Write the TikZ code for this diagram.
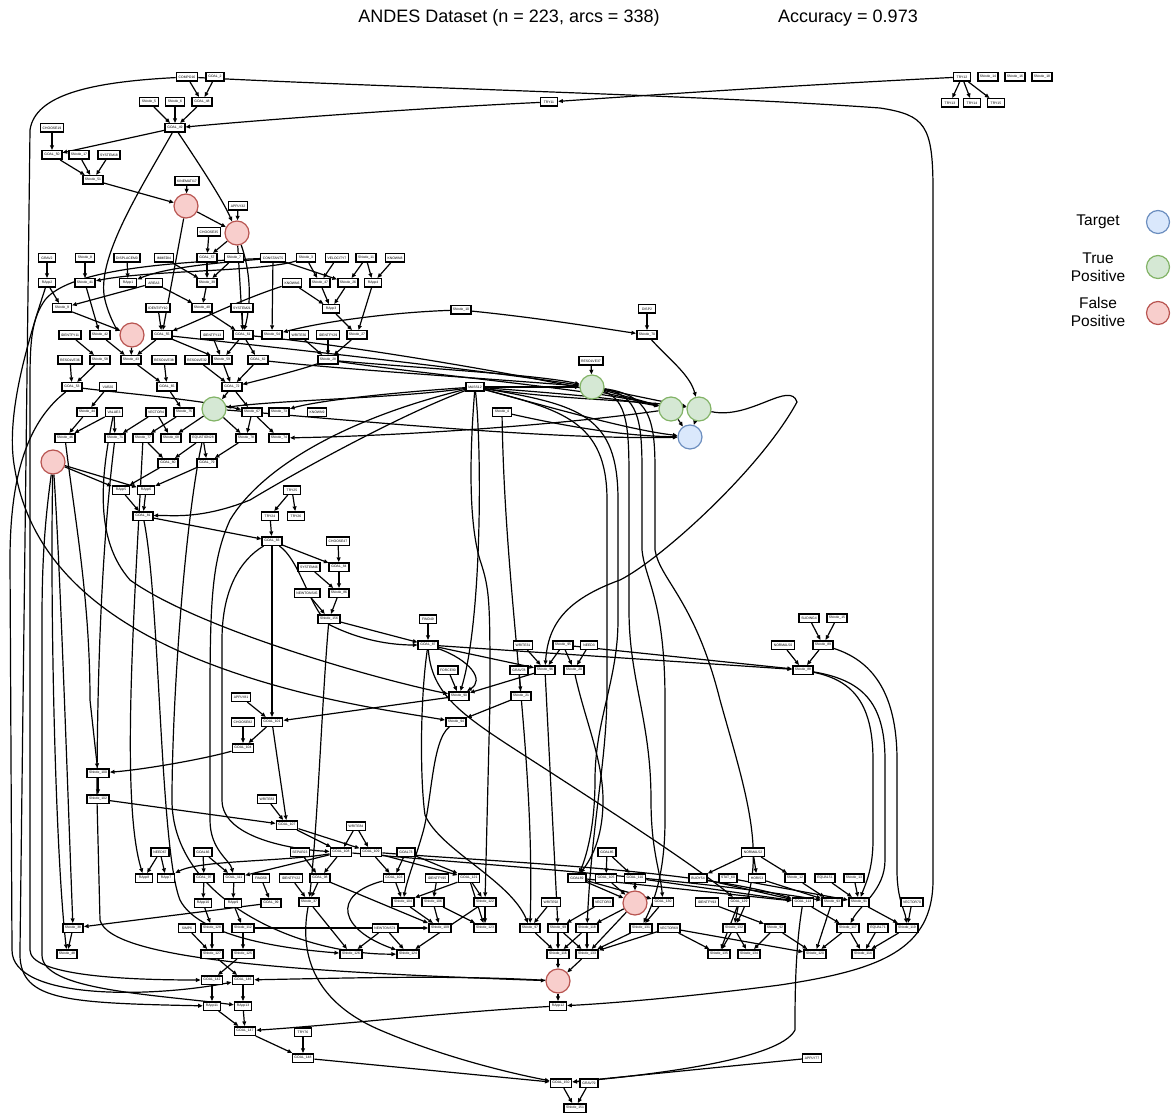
\documentclass[tikz,border=0pt]{standalone}
\usepackage{fontspec}
\setmainfont{Liberation Sans}
\usetikzlibrary{arrows.meta, positioning, backgrounds}
\definecolor{tgtfill}{HTML}{DAE8FC}
\definecolor{tgtline}{HTML}{6C8EBF}
\definecolor{tpfill}{HTML}{D5E8D4}
\definecolor{tpline}{HTML}{82B366}
\definecolor{fpfill}{HTML}{F8CECC}
\definecolor{fpline}{HTML}{B85450}

\begin{document}
\begin{tikzpicture}[x=1pt, y=-1pt,
  box/.style={draw, line width=1.5pt, fill=white, minimum width=17pt, minimum height=8.5pt,
    inner xsep=2.2pt, inner ysep=0.5pt, font=\fontsize{3.4}{4}\selectfont},
  tgt/.style={circle, draw=tgtline, fill=tgtfill, line width=1.2pt, minimum size=24pt, inner sep=0pt},
  tp/.style={tgt, draw=tpline, fill=tpfill},
  fp/.style={tgt, draw=fpline, fill=fpfill},
  edge/.style={-{Triangle[length=4.6pt, width=3.8pt]}, line width=1.2pt},
  heading/.style={font=\fontsize{18}{21}\selectfont},
  legend/.style={font=\fontsize{15.5}{18}\selectfont, align=center}]
  \useasboundingbox (0,0) rectangle (1176,1115);

  % Title and legend
  \node[heading] (ttl) at (509,18) {ANDES Dataset (n = 223, arcs = 338)};
  \node[heading] (acc) at (848,18) {Accuracy = 0.973};
  \node[legend] (legt) at (1098,222) {Target};
  \node[legend] (legtp) at (1098,267) {True\\Positive};
  \node[legend] (legfp) at (1098,312) {False\\Positive};
  \node[tgt, minimum size=23pt] (legtc) at (1158,222) {};
  \node[tp, minimum size=23pt] (legtpc) at (1158,267) {};
  \node[fp, minimum size=23pt] (legfpc) at (1158,313) {};

  % Top rows
  \node[box] (compo16) at (187,77) {COMPO16};
  \node[box] (goal2) at (215,77) {GOAL\_2};
  \node[box] (try12) at (962,77) {TRY12};
  \node[box] (sn14) at (988,77) {SNode\_14};
  \node[box] (sn16) at (1015,77) {SNode\_16};
  \node[box] (sn18) at (1042,77) {SNode\_18};
  \node[box] (sn5) at (149,102) {SNode\_5};
  \node[box] (sn6) at (175,102) {SNode\_6};
  \node[box] (goal48) at (202,102) {GOAL\_48};
  \node[box] (try11) at (549,102) {TRY11};
  \node[box] (try13) at (950,103) {TRY13};
  \node[box] (try14) at (972,103) {TRY14};
  \node[box] (try15) at (996,103) {TRY15};
  \node[box] (choose19) at (52,128) {CHOOSE19};
  \node[box] (goal49) at (175,128) {GOAL\_49};
  \node[box] (goal50) at (52,155) {GOAL\_50};
  \node[box] (sn17) at (79,155) {SNode\_17};
  \node[box] (system18) at (109,155) {SYSTEM18};
  \node[box] (sn51) at (93,180) {SNode\_51};
  \node[box] (kinemati17) at (187,181) {KINEMATI17};
  \node[fp] (fpA) at (186,206) {};
  \node[box] (apply32) at (238,206) {APPLY32};
  \node[box] (choose35) at (209,232) {CHOOSE35};
  \node[fp] (fpB) at (237,233) {};

  % Rows 258 -- 335
  \node[box] (grav2) at (47,258) {GRAV2};
  \node[box] (sn8) at (85,258) {SNode\_8};
  \node[box] (displacem0) at (127,258) {DISPLACEM0};
  \node[box] (immedi4) at (164,258) {IMMEDI4};
  \node[box] (goal57) at (207,258) {GOAL\_57};
  \node[box] (sn7) at (234,258) {SNode\_7};
  \node[box] (constant5) at (273,258) {CONSTANT5};
  \node[box] (sn3) at (306,258) {SNode\_3};
  \node[box] (velocity7) at (337,258) {VELOCITY7};
  \node[box] (sn11) at (366,258) {SNode\_11};
  \node[box] (known8) at (395,258) {KNOWN8};
  \node[box] (rapp2) at (47,283) {RApp2};
  \node[box] (sn41) at (85,283) {SNode\_41};
  \node[box] (rapp1) at (128,283) {RApp1};
  \node[box] (area3) at (154,283) {AREA3};
  \node[box] (sn39) at (207,283) {SNode\_39};
  \node[box] (known6) at (292,283) {KNOWN6};
  \node[box] (sn47) at (320,283) {SNode\_47};
  \node[box] (sn26) at (348,283) {SNode\_26};
  \node[box] (rapp4) at (373,283) {RApp4};
  \node[box] (sn9) at (62,308) {SNode\_9};
  \node[box] (identify10) at (158,308) {IDENTIFY10};
  \node[box] (sn40) at (202,308) {SNode\_40};
  \node[box] (system21) at (242,308) {SYSTEM21};
  \node[box] (rapp3) at (331,309) {RApp3};
  \node[box] (sn10) at (461,310) {SNode\_10};
  \node[box] (disp2) at (647,309) {DISP2};
  \node[box] (identfy11) at (70,335) {IDENTFY11};
  \node[box] (sn42) at (100,335) {SNode\_42};
  \node[fp] (fpC) at (132,335) {};
  \node[box] (goal55) at (162,335) {GOAL\_55};
  \node[box] (identfy13) at (212,335) {IDENTFY13};
  \node[box] (goal61) at (243,335) {GOAL\_61};
  \node[box] (sn54) at (272,335) {SNode\_54};
  \node[box] (write30) at (299,335) {WRITE30};
  \node[box] (identfy29) at (328,335) {IDENTFY29};
  \node[box] (sn27) at (357,335) {SNode\_27};
  \node[box] (sn70) at (647,335) {SNode\_70};

  % Rows 360 -- 438
  \node[box] (resolve36) at (70,360) {RESOLVE36};
  \node[box] (sn58) at (100,360) {SNode\_58};
  \node[box] (sn43) at (131,360) {SNode\_43};
  \node[box] (resolve38) at (164,360) {RESOLVE38};
  \node[box] (resolve32) at (197,360) {RESOLVE32};
  \node[box] (sn59) at (222,360) {SNode\_59};
  \node[box] (goal62) at (258,360) {GOAL\_62};
  \node[box] (sn28) at (328,360) {SNode\_28};
  \node[box] (resolve37) at (591,361) {RESOLVE37};
  \node[box] (goal53) at (72,387) {GOAL\_53};
  \node[box] (var20) at (108,387) {VAR20};
  \node[box] (goal65) at (167,387) {GOAL\_65};
  \node[box] (goal72) at (232,387) {GOAL\_72};
  \node[box] (mass12) at (475,387) {MASS12};
  \node[tp] (tpA) at (592,387) {};
  \node[box] (sn44) at (87,412) {SNode\_44};
  \node[box] (value3) at (114,412) {VALUE3};
  \node[box] (vector4) at (156,412) {VECTOR4};
  \node[box] (sn75) at (184,412) {SNode\_75};
  \node[tp] (tpB) at (214,409) {};
  \node[box] (sn67) at (252,412) {SNode\_67};
  \node[box] (sn73) at (279,412) {SNode\_73};
  \node[box] (known9) at (317,412) {KNOWN9};
  \node[box] (sn4) at (502,412) {SNode\_4};
  \node[tp] (tpC) at (671,409) {};
  \node[tp] (tpD) at (699,409) {};
  \node[tgt] (target) at (690,437) {};
  \node[box] (sn46) at (65,438) {SNode\_46};
  \node[box] (sn71) at (115,438) {SNode\_71};
  \node[box] (sn77) at (143,438) {SNode\_77};
  \node[box] (sn68) at (171,438) {SNode\_68};
  \node[box] (equation28) at (203,438) {EQUATION28};
  \node[box] (sn78) at (246,438) {SNode\_78};
  \node[box] (sn74) at (279,438) {SNode\_74};

  % Rows 462 -- 748
  \node[fp] (fpD) at (53,462) {};
  \node[box] (goal80) at (168,463) {GOAL\_80};
  \node[box] (goal79) at (207,463) {GOAL\_79};
  \node[box] (rapp5) at (121,490) {RApp5};
  \node[box] (rapp6) at (146,490) {RApp6};
  \node[box] (try25) at (292,490) {TRY25};
  \node[box] (goal81) at (143,516) {GOAL\_81};
  \node[box] (try24) at (270,516) {TRY24};
  \node[box] (try26) at (296,516) {TRY26};
  \node[box] (goal83) at (272,541) {GOAL\_83};
  \node[box] (choose47) at (338,541) {CHOOSE47};
  \node[box] (system46) at (309,567) {SYSTEM46};
  \node[box] (goal84) at (339,567) {GOAL\_84};
  \node[box] (newtons45) at (307,593) {NEWTONS45};
  \node[box] (sn86) at (339,593) {SNode\_86};
  \node[box] (sn156) at (329,619) {SNode\_156};
  \node[box] (find49) at (428,619) {FIND49};
  \node[box] (sliding4) at (809,618) {SLIDING4};
  \node[box] (sn15) at (837,618) {SNode\_15};
  \node[box] (goal87) at (428,645) {GOAL\_87};
  \node[box] (write31) at (523,645) {WRITE31};
  \node[box] (sn95) at (563,645) {SNode\_95};
  \node[box] (need3) at (589,645) {NEED3};
  \node[box] (normal50) at (783,645) {NORMAL50};
  \node[box] (sn89) at (823,645) {SNode\_89};
  \node[box] (force90) at (448,670) {FORCE90};
  \node[box] (grav78) at (519,670) {GRAV78};
  \node[box] (sn96) at (545,670) {SNode\_96};
  \node[box] (sn20) at (574,670) {SNode\_20};
  \node[box] (sn88) at (803,670) {SNode\_88};
  \node[box] (apply81) at (241,697) {APPLY81};
  \node[box] (sn90) at (459,696) {SNode\_90};
  \node[box] (sn21) at (521,696) {SNode\_21};
  \node[box] (choose82) at (243,722) {CHOOSE82};
  \node[box] (goal101) at (272,722) {GOAL\_101};
  \node[box] (sn94) at (456,722) {SNode\_94};
  \node[box] (goal104) at (243,748) {GOAL\_104};

  % Rows 773 -- 878
  \node[box] (sn100) at (98,773) {SNode\_100};
  \node[box] (sn102) at (98,799) {SNode\_102};
  \node[box] (write83) at (267,799) {WRITE83};
  \node[box] (goal107) at (287,825) {GOAL\_107};
  \node[box] (write84) at (356,826) {WRITE84};
  \node[box] (need67) at (160,852) {NEED67};
  \node[box] (goal66) at (203,852) {GOAL66};
  \node[box] (separ23) at (300,852) {SEPAR23};
  \node[box] (goal108) at (341,852) {GOAL\_108};
  \node[box] (goal109) at (371,852) {GOAL\_109};
  \node[box] (goal73) at (406,852) {GOAL73};
  \node[box] (goal85) at (607,852) {GOAL85};
  \node[box] (normal52) at (753,852) {NORMAL52};
  \node[box] (rapp8) at (144,878) {RApp8};
  \node[box] (rapp7) at (166,878) {RApp7};
  \node[box] (goal97) at (204,878) {GOAL\_97};
  \node[box] (goal111) at (234,878) {GOAL\_111};
  \node[box] (find58) at (261,878) {FIND58};
  \node[box] (identfy22) at (291,878) {IDENTFY22};
  \node[box] (goal98) at (320,878) {GOAL\_98};
  \node[box] (goal103) at (394,878) {GOAL\_103};
  \node[box] (identfy95) at (437,878) {IDENTFY95};
  \node[box] (goal121) at (469,878) {GOAL\_121};
  \node[box] (goal69) at (577,878) {GOAL69};
  \node[box] (goal105) at (606,878) {GOAL\_105};
  \node[box] (goal110) at (635,878) {GOAL\_110};
  \node[box] (buoy54) at (698,878) {BUOY54};
  \node[box] (stat60) at (728,878) {STAT\_60};
  \node[box] (hori53) at (757,878) {HORI53};
  \node[box] (sn12) at (795,878) {SNode\_12};
  \node[box] (equal51) at (825,878) {EQUAL51};
  \node[box] (sn13) at (854,878) {SNode\_13};

  % Rows 902 -- 1108
  \node[box] (rapp10) at (203,903) {RApp10};
  \node[box] (rapp9) at (233,903) {RApp9};
  \node[box] (goal99) at (271,903) {GOAL\_99};
  \node[box] (sn37) at (309,902) {SNode\_37};
  \node[box] (sn104) at (403,902) {SNode\_104};
  \node[box] (sn106) at (433,902) {SNode\_106};
  \node[box] (sn122) at (485,902) {SNode\_122};
  \node[box] (write92) at (551,902) {WRITE92};
  \node[box] (vector3) at (603,902) {VECTOR3};
  \node[fp] (fpE) at (635,903) {};
  \node[box] (goal130) at (663,902) {GOAL\_130};
  \node[box] (identfy93) at (707,902) {IDENTFY93};
  \node[box] (goal129) at (739,902) {GOAL\_129};
  \node[box] (goal113) at (803,902) {GOAL\_113};
  \node[box] (sn93) at (832,902) {SNode\_93};
  \node[box] (sn91) at (859,902) {SNode\_91};
  \node[box] (vector70) at (912,902) {VECTOR70};
  \node[box] (sn38) at (73,928) {SNode\_38};
  \node[box] (simp6) at (187,928) {SIMP6};
  \node[box] (sn128) at (212,928) {SNode\_128};
  \node[box] (sn112) at (243,928) {SNode\_112};
  \node[box] (newtons74) at (385,928) {NEWTONS74};
  \node[box] (sn109) at (440,928) {SNode\_109};
  \node[box] (sn123) at (485,928) {SNode\_123};
  \node[box] (sn97) at (530,928) {SNode\_97};
  \node[box] (sn99) at (558,928) {SNode\_99};
  \node[box] (sn118) at (587,928) {SNode\_118};
  \node[box] (sn131) at (641,928) {SNode\_131};
  \node[box] (vector69) at (669,928) {VECTOR69};
  \node[box] (sn132) at (734,928) {SNode\_132};
  \node[box] (sn92) at (775,928) {SNode\_92};
  \node[box] (sn117) at (848,928) {SNode\_117};
  \node[box] (equal71) at (878,928) {EQUAL71};
  \node[box] (sn119) at (907,928) {SNode\_119};
  \node[box] (sn48) at (67,954) {SNode\_48};
  \node[box] (sn127) at (212,954) {SNode\_127};
  \node[box] (sn125) at (243,954) {SNode\_125};
  \node[box] (sn126) at (351,954) {SNode\_126};
  \node[box] (sn124) at (408,954) {SNode\_124};
  \node[box] (sn116) at (558,954) {SNode\_116};
  \node[box] (sn133) at (587,954) {SNode\_133};
  \node[box] (sn135) at (719,954) {SNode\_135};
  \node[box] (sn134) at (749,954) {SNode\_134};
  \node[box] (sn120) at (815,954) {SNode\_120};
  \node[box] (sn114) at (863,954) {SNode\_114};
  \node[box] (goal142) at (212,980) {GOAL\_142};
  \node[box] (goal146) at (243,980) {GOAL\_146};
  \node[fp] (fpF) at (558,981) {};
  \node[box] (rapp11) at (212,1006) {RApp11};
  \node[box] (rapp13) at (243,1006) {RApp13};
  \node[box] (rapp12) at (558,1006) {RApp12};
  \node[box] (goal147) at (245,1031) {GOAL\_147};
  \node[box] (try76) at (303,1032) {TRY76};
  \node[box] (goal148) at (303,1058) {GOAL\_148};
  \node[box] (apply77) at (812,1058) {APPLY77};
  \node[box] (goal150) at (561,1083) {GOAL\_150};
  \node[box] (grav79) at (589,1083) {GRAV79};
  \node[box] (sn151) at (575,1108) {SNode\_151};

  \begin{scope}[on background layer]
  % Short arcs
  \foreach \a/\b in {compo16/goal48, goal2/goal48, sn5/goal49, sn6/goal49, goal48/goal49,
      try12/try13, try12/try14, try12/try15, choose19/goal50, goal50/sn51, sn17/sn51,
      system18/sn51, sn51/fpA, kinemati17/fpA, fpA/fpB, apply32/fpB, fpA/goal55, fpB/goal57,
      choose35/goal57, fpB/goal61, goal57/sn39, sn7/sn39, immedi4/sn39, sn39/sn40,
      area3/sn9, area3/sn40, grav2/rapp2, sn8/sn41, displacem0/rapp1, rapp2/sn9, sn41/sn42,
      sn9/fpC, identify10/goal55, sn40/goal61, system21/goal61, constant5/sn54, sn3/sn47,
      velocity7/sn47, constant5/sn26, sn11/sn26, sn11/rapp4, known8/rapp4, known6/rapp3,
      sn47/rapp3, sn26/rapp3, rapp3/sn27, rapp4/sn27, identfy29/sn28, sn27/sn28, write30/sn28,
      disp2/sn70, identfy11/sn58, sn42/sn43, fpC/sn43, goal55/sn43, goal55/sn59,
      identfy13/sn59, goal61/sn59, goal61/goal62, resolve36/goal53, sn58/goal53, sn43/goal65,
      resolve38/goal65, sn59/goal72, resolve32/goal72, goal62/goal72, var20/sn44, goal65/sn75,
      goal72/tpB, goal72/sn67, resolve37/tpA, tpA/tpC, tpA/tpD, tpC/target, tpD/target,
      sn44/sn46, value3/sn46, value3/sn71, vector4/sn71, vector4/sn68, sn75/sn77, tpB/sn68,
      tpB/sn78, sn67/sn78, sn67/sn74, equation28/goal80, equation28/goal79, sn78/goal79,
      sn77/goal80, goal80/rapp5, goal79/rapp6, fpD/rapp5, fpD/rapp6, rapp5/goal81,
      rapp6/goal81, goal81/goal83, try25/try24, try25/try26, try24/goal83, goal83/goal84,
      goal83/goal101, choose47/goal84, system46/sn86, goal84/sn86, newtons45/sn156,
      sn86/sn156, sn156/goal87, find49/goal87, force90/sn90, goal87/sn96, write31/sn96,
      grav78/sn21, sn96/sn90, sn21/sn94, sn90/goal101, sn95/sn96, sn95/sn20, need3/sn20,
      sn95/sn88, sliding4/sn89, sn15/sn89, sn89/sn88, normal50/sn88, goal87/sn88,
      apply81/goal101, choose82/goal104, goal101/goal104, goal101/goal107, write83/goal107,
      sn100/sn102, sn102/goal107, goal107/goal108, goal107/goal109, write84/goal108,
      write84/goal109, separ23/goal98, goal108/goal98, goal109/goal103, goal109/goal121,
      goal73/goal103, goal73/goal121, identfy22/sn37, goal98/sn37, goal98/sn109, sn37/sn126,
      goal103/sn104, identfy95/sn106, goal121/sn104, goal121/sn122, goal121/sn123,
      sn104/sn109, sn106/sn109, sn106/sn123, sn122/sn123, sn122/sn124, newtons74/sn126,
      newtons74/sn124, write92/sn97, sn97/sn116, goal85/goal105, goal85/goal110,
      normal52/buoy54, normal52/hori53, normal52/sn12, goal69/fpE, goal105/fpE, goal110/fpE,
      goal110/goal113, goal69/goal113, goal69/goal130, vector3/sn99, fpE/sn118, fpE/sn133,
      goal130/sn131, identfy93/sn92, goal129/sn132, goal129/sn135, vector69/sn133,
      vector69/sn135, vector69/sn120, sn132/sn135, sn132/sn134, sn92/sn134, sn92/sn120,
      sn131/sn133, sn118/sn116, sn118/sn133, sn99/sn116, sn99/sn133, sn116/fpF, sn133/fpF,
      fpF/rapp12, equal51/sn91, sn13/sn91, sn91/sn119, sn93/sn120, vector70/sn119,
      sn117/sn120, sn117/sn114, equal71/sn114, sn119/sn114, buoy54/goal113, stat60/sn91,
      hori53/sn93, sn12/sn93, goal113/sn117, need67/rapp8, need67/rapp7, goal66/goal97,
      goal66/goal111, goal97/rapp10, goal111/rapp9, find58/goal99, rapp10/sn128, rapp9/sn112,
      simp6/sn127, sn128/sn127, sn112/sn125, sn127/goal146, sn125/goal142, goal142/rapp11,
      goal146/rapp13, rapp11/goal147, rapp13/goal147, goal99/sn38, sn38/sn48, try76/goal148,
      goal147/goal148, goal148/goal150, apply77/goal150, grav79/sn151, goal150/sn151,
      sn96/sn99, sn112/sn109, goal108/goal111}
    \draw[edge] (\a) -- (\b);

  % Long arcs, top part
  \draw[edge] (try12) .. controls (800,85) and (650,95) .. (try11);
  \draw[edge] (try11) .. controls (420,108) and (260,120) .. (goal49);
  \draw[edge] (goal49) -- (goal50);
  \draw[edge] (goal49) .. controls (210,180) and (225,205) .. (fpB);
  \draw[edge] (goal49) .. controls (140,190) and (95,260) .. (105,300) .. controls (110,320) and (118,330) .. (fpC);
  \draw[edge] (fpB) .. controls (250,270) and (252,300) .. (goal61);
  \draw[edge] (constant5) .. controls (230,262) and (170,266) .. (rapp1);
  \draw[edge] (sn3) .. controls (260,272) and (150,270) .. (sn41);
  \draw[edge] (known6) .. controls (240,300) and (200,320) .. (goal55);
  \draw[edge] (sn10) .. controls (400,312) and (330,320) .. (sn54);
  \draw[edge] (sn10) .. controls (540,318) and (600,328) .. (sn70);
  \draw[edge] (sn70) .. controls (670,360) and (690,375) .. (tpD);
  \draw[edge] (goal53) .. controls (140,395) and (200,400) .. (sn67);
  \draw[edge] (goal55) .. controls (300,350) and (480,370) .. (tpA);
  \draw[edge] (goal62) .. controls (350,370) and (480,378) .. (tpA);
  \draw[edge] (goal61) .. controls (350,345) and (560,380) .. (tpC);
  \draw[edge] (sn28) .. controls (420,368) and (540,375) .. (tpA);
  \draw[edge] (sn28) .. controls (430,375) and (600,390) .. (tpC);
  \draw[edge] (sn28) .. controls (300,370) and (260,380) .. (goal72);
  \draw[edge] (mass12) -- (tpA);
  \draw[edge] (mass12) .. controls (540,392) and (620,398) .. (tpC);
  \draw[edge] (mass12) .. controls (560,400) and (640,400) .. (tpD);
  \draw[edge] (mass12) .. controls (560,410) and (630,430) .. (target);
  \draw[edge] (mass12) .. controls (400,392) and (320,400) .. (sn73);
  \draw[edge] (mass12) .. controls (400,398) and (280,400) .. (tpB);
  \draw[edge] (sn4) .. controls (560,425) and (620,436) .. (target);
  \draw[edge] (tpB) .. controls (350,420) and (550,440) .. (target);
  \draw[edge] (tpC) .. controls (560,425) and (400,436) .. (sn74);
  \draw[edge] (tpD) .. controls (750,420) and (790,380) .. (797,402) .. controls (760,470) and (660,560) .. (620,580) .. controls (565,600) and (548,625) .. (sn96);

  % Long arcs, middle part
  \draw[edge] (goal83) .. controls (300,560) and (310,610) .. (330,625) .. controls (360,640) and (390,645) .. (goal87);
  \draw[edge] (goal87) .. controls (470,660) and (485,680) .. (sn90);
  \draw[edge] (mass12) .. controls (400,415) and (300,470) .. (250,500) .. controls (200,520) and (170,515) .. (goal81);
  \draw[edge] (goal83) .. controls (240,560) and (222,590) .. (222,640) -- (222,800) .. controls (222,840) and (300,850) .. (goal108);
  \draw[edge] (mass12) .. controls (340,420) and (260,470) .. (230,520) .. controls (212,560) and (210,600) .. (210,700) -- (210,820) .. controls (210,850) and (230,860) .. (goal111);
  \draw[edge] (mass12) .. controls (482,450) and (482,620) .. (sn90);
  \draw[edge] (mass12) .. controls (470,450) and (468,520) .. (480,560) .. controls (490,590) and (490,600) .. (490,700) -- (sn122);
  \draw[edge] (sn4) .. controls (505,600) and (535,750) .. (sn97);
  \draw[edge] (mass12) .. controls (560,410) and (607,420) .. (607,500) -- (607,690) .. controls (607,760) and (592,820) .. (sn118);
  \draw[edge] (mass12) .. controls (580,405) and (618,415) .. (618,500) -- (618,620) .. controls (618,680) and (595,720) .. (595,780) .. controls (595,830) and (585,860) .. (goal69);
  \draw[edge] (tpA) .. controls (628,400) and (629,430) .. (629,480) -- (629,610) .. controls (629,680) and (651,720) .. (651,800) .. controls (651,850) and (660,870) .. (goal130);
  \draw[edge] (tpA) .. controls (638,395) and (642,420) .. (642,470) -- (642,550) .. controls (645,580) and (665,600) .. (665,700) -- (665,820) .. controls (665,870) and (655,900) .. (sn131);
  \draw[edge] (tpA) .. controls (650,395) and (655,420) .. (655,470) -- (655,550) .. controls (660,580) and (695,600) .. (720,700) .. controls (745,790) and (770,860) .. (sn132);
  \draw[edge] (sn20) .. controls (585,720) and (603,760) .. (603,800) .. controls (603,840) and (590,860) .. (goal69);
  \draw[edge] (goal87) .. controls (432,700) and (470,720) .. (547,770) .. controls (640,830) and (700,870) .. (goal129);
  \draw[edge] (goal87) .. controls (420,700) and (420,780) .. (425,815) .. controls (440,850) and (510,880) .. (sn97);
  \draw[edge] (sn94) .. controls (432,740) and (432,800) .. (423,832) .. controls (415,860) and (407,880) .. (sn104);
  \draw[edge] (sn156) .. controls (322,700) and (318,820) .. (sn37);
  \draw[edge] (sn88) .. controls (850,680) and (873,700) .. (873,760) -- (873,840) .. controls (873,870) and (865,885) .. (sn91);
  \draw[edge] (sn88) .. controls (860,680) and (885,700) .. (885,760) -- (885,860) .. controls (885,890) and (860,905) .. (sn117);
  \draw[edge] (sn89) .. controls (870,660) and (897,690) .. (897,760) -- (897,870) .. controls (897,900) and (905,910) .. (sn119);
  \draw[edge] (goal104) .. controls (200,760) and (140,770) .. (sn100);

  % Long arcs, left side
  \draw[edge] (compo16) .. controls (90,82) and (35,95) .. (30,130) -- (20,950) .. controls (18,1000) and (60,1003) .. (rapp11);
  \draw[edge] (constant5) .. controls (180,262) and (70,268) .. (45,300) .. controls (32,318) and (30,340) .. (30,380) -- (30,950) .. controls (30,975) and (120,980) .. (goal142);
  \draw[edge] (fpD) .. controls (45,520) and (42,560) .. (42,620) -- (42,955) .. controls (42,990) and (150,994) .. (rapp13);
  \draw[edge] (fpD) .. controls (60,560) and (68,800) .. (sn38);
  \draw[edge] (fpD) .. controls (50,600) and (55,850) .. (sn48);
  \draw[edge] (goal53) .. controls (30,420) and (10,470) .. (10,560) -- (12,950) .. controls (12,1000) and (150,998) .. (goal146);
  \draw[edge] (sn46) .. controls (75,520) and (90,600) .. (90,700) -- (sn100);
  \draw[edge] (rapp2) .. controls (25,350) and (5,420) .. (15,470) .. controls (30,560) and (100,620) .. (200,660) .. controls (300,700) and (400,712) .. (sn94);
  \draw[edge] (value3) .. controls (100,480) and (95,540) .. (130,580) .. controls (200,630) and (380,680) .. (sn90);
  \draw[edge] (sn71) .. controls (100,560) and (97,700) .. (97,800) -- (100,920) .. controls (110,960) and (300,972) .. (fpF);
  \draw[edge] (sn77) .. controls (135,600) and (120,800) .. (rapp8);
  \draw[edge] (goal81) .. controls (160,600) and (160,850) .. (180,900) .. controls (200,940) and (300,950) .. (sn126);
  \draw[edge] (equation28) .. controls (185,520) and (172,700) .. (172,800) .. controls (172,900) and (300,955) .. (sn124);

  % Long arcs, bottom part
  \draw[edge] (goal108) .. controls (280,862) and (200,860) .. (rapp7);
  \draw[edge] (goal109) .. controls (500,862) and (700,870) .. (goal113);
  \draw[edge] (goal108) .. controls (500,866) and (700,880) .. (sn93);
  \draw[edge] (goal103) .. controls (330,895) and (340,930) .. (sn124);
  \draw[edge] (sn37) .. controls (300,950) and (310,1000) .. (380,1030) .. controls (450,1060) and (520,1075) .. (goal150);
  \draw[edge] (fpF) .. controls (450,975) and (350,978) .. (goal146);
  \draw[edge] (rapp12) .. controls (450,1012) and (350,1024) .. (goal147);
  \draw[edge] (goal113) .. controls (795,950) and (795,1000) .. (795,1030) .. controls (780,1060) and (650,1075) .. (goal150);
  \draw[edge] (compo16) .. controls (400,88) and (700,95) .. (880,108) .. controls (925,115) and (933,125) .. (933,190) -- (933,880) .. controls (933,950) and (880,970) .. (780,985) .. controls (680,998) and (600,1004) .. (rapp12);
  \end{scope}
\end{tikzpicture}
\end{document}
